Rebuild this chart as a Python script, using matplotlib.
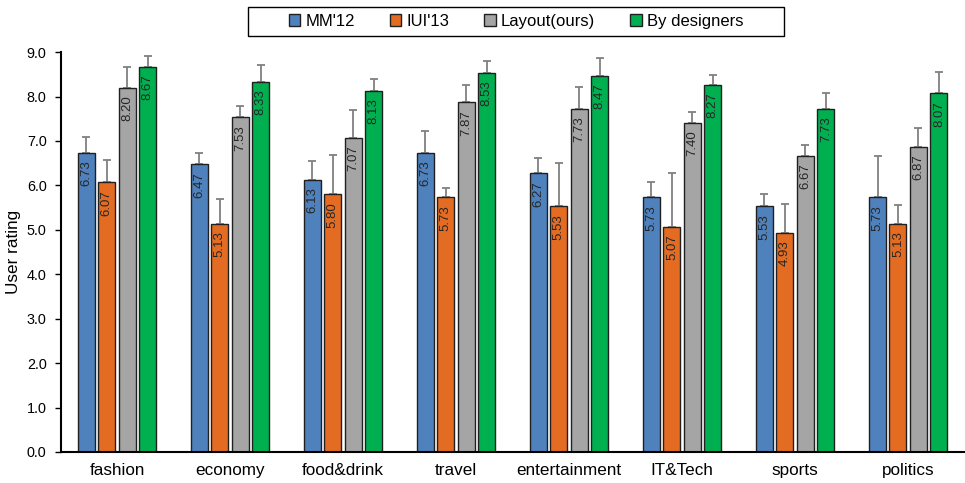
import matplotlib
matplotlib.use("Agg")
import matplotlib.pyplot as plt
from matplotlib.patches import Rectangle
import numpy as np

plt.rcParams['font.family'] = ['Liberation Sans', 'DejaVu Sans']

categories = ['fashion', 'economy', 'food&drink', 'travel', 'entertainment',
              'IT&Tech', 'sports', 'politics']
series = ["MM'12", "IUI'13", 'Layout(ours)', 'By designers']

mm12 = [6.73, 6.47, 6.13, 6.73, 6.27, 5.73, 5.53, 5.73]
iui13 = [6.07, 5.13, 5.80, 5.73, 5.53, 5.07, 4.93, 5.13]
layout = [8.20, 7.53, 7.07, 7.87, 7.73, 7.40, 6.67, 6.87]
designers = [8.67, 8.33, 8.13, 8.53, 8.47, 8.27, 7.73, 8.07]

# upper error (std)
mm12_err = [0.35, 0.26, 0.41, 0.50, 0.35, 0.35, 0.27, 0.92]
iui13_err = [0.49, 0.56, 0.89, 0.22, 0.98, 1.21, 0.65, 0.42]
layout_err = [0.46, 0.26, 0.63, 0.40, 0.49, 0.26, 0.23, 0.41]
designers_err = [0.24, 0.39, 0.26, 0.28, 0.40, 0.21, 0.36, 0.49]

colors = ['#4f81bd', '#e46c22', '#a5a5a5', '#00b050']
data = [mm12, iui13, layout, designers]
errs = [mm12_err, iui13_err, layout_err, designers_err]

fig = plt.figure(figsize=(9.65, 4.83), dpi=100)
ax = fig.add_axes([0.0627, 0.0642, 0.937, 0.828])

x = np.arange(len(categories))
step = 0.181
width = 0.15
for i in range(4):
    pos = x + (i - 1.5) * step
    vals = np.array(data[i])
    e = np.array(errs[i])
    ax.bar(pos, vals, width, color=colors[i], edgecolor='#202020', linewidth=1.0,
           label=series[i], zorder=2)
    ax.errorbar(pos, vals, yerr=[np.zeros_like(e), e], fmt='none', ecolor='#808080',
                elinewidth=1.3, capsize=3, capthick=1.3, zorder=1)
    for p, v in zip(pos, vals):
        ax.text(p, v - 0.17, '%.2f' % v, rotation=90, ha='center', va='top',
                fontsize=9.5, color='#262626', zorder=3)

ax.set_xlim(-0.5, 7.5)
ax.set_ylim(0, 9)
ax.set_yticks(np.arange(0, 9.1, 1.0))
ax.set_yticklabels(['%.1f' % t for t in np.arange(0, 9.1, 1.0)], fontsize=10.4)
ax.set_xticks(x)
ax.set_xticklabels(categories, fontsize=12.3)
ax.tick_params(axis='x', length=0, pad=8)
ax.tick_params(axis='y', length=4, width=1, direction='out', pad=6)
ax.set_ylabel('User rating', fontsize=12.3)
ax.spines['top'].set_visible(False)
ax.spines['right'].set_visible(False)
ax.spines['left'].set_linewidth(1.5)
ax.spines['bottom'].set_linewidth(1.5)

# legend with a box drawn separately (wider than the entries)
leg = fig.legend(loc='center', bbox_to_anchor=(0.5347, 0.9555), ncol=4,
                 fontsize=12, frameon=False,
                 handlelength=0.7, handleheight=0.7, handletextpad=0.3,
                 columnspacing=2.1, borderpad=0.2)
fig.patches.append(Rectangle((248 / 965, 1 - 36 / 483), 536 / 965, 29 / 483,
                             transform=fig.transFigure, fill=False,
                             edgecolor='black', linewidth=1.0))

fig.savefig('out.png', dpi=100)
